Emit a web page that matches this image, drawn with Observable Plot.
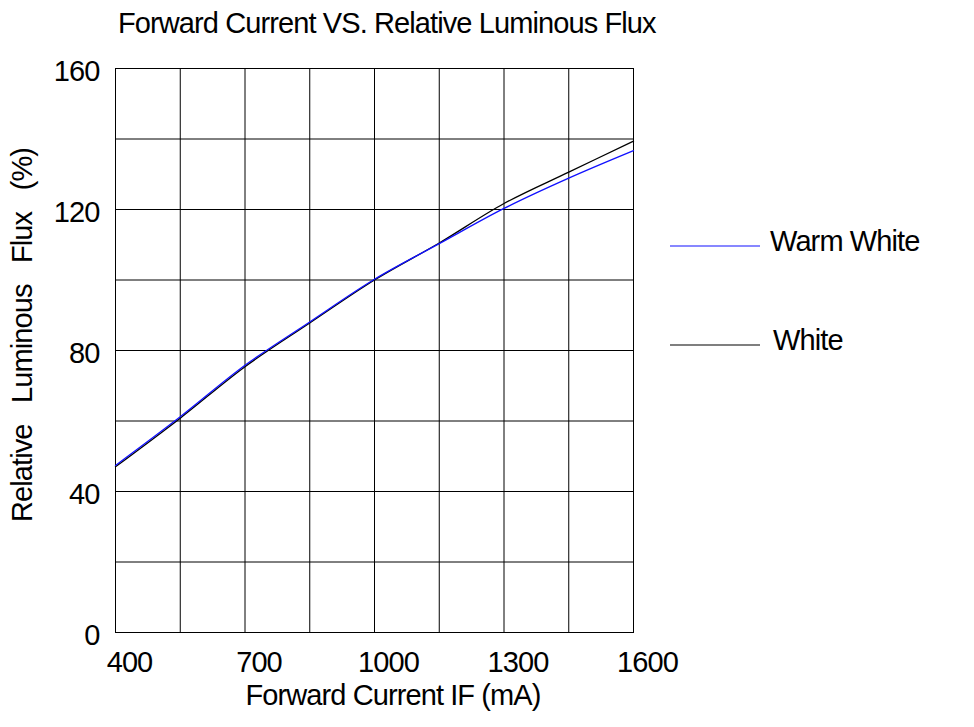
<!DOCTYPE html>
<html>
<head>
<meta charset="utf-8">
<script src="https://cdn.jsdelivr.net/npm/d3@7"></script>
<script src="https://cdn.jsdelivr.net/npm/@observablehq/plot@0.6"></script>
<style>
  html, body { margin: 0; padding: 0; background: #fff; }
  #chart svg { display: block; }
  #chart svg text { letter-spacing: -0.9px; }
</style>
</head>
<body>
<div id="chart"></div>
<script>
// Forward current (mA)
const currents = [400, 550, 700, 850, 1000, 1150, 1300, 1450, 1600];
// Relative luminous flux (%)
const whiteFlux = [47.0, 60.8, 75.4, 87.8, 100.0, 110.5, 121.7, 130.6, 139.4];
const warmWhiteFlux = [47.4, 61.2, 75.8, 88.1, 100.2, 110.3, 120.3, 128.9, 136.7];

const seriesNames = ["Warm White", "White"];
const seriesColors = ["#1010ff", "#000000"];

const xGridTicks = [400, 550, 700, 850, 1000, 1150, 1300, 1450, 1600];
const xLabelTicks = [400, 700, 1000, 1300, 1600];
const yGridTicks = [0, 20, 40, 60, 80, 100, 120, 140, 160];
const yLabelTicks = [0, 40, 80, 120, 160];

const titleText = "Forward Current VS. Relative Luminous Flux";
const xLabelText = "Forward Current IF (mA)";
const yLabelText = "Relative   Luminous   Flux   (%)";

const white = currents.map((c, i) => ({current: c, flux: whiteFlux[i]}));
const warm = currents.map((c, i) => ({current: c, flux: warmWhiteFlux[i]}));

const font = "'Liberation Sans', Arial, sans-serif";
const fs = 29;

const plot = Plot.plot({
  width: 974,
  height: 727,
  marginTop: 68,
  marginBottom: 95,
  marginLeft: 115,
  marginRight: 341,
  style: {fontFamily: font, background: "#fff", color: "#000"},
  x: {domain: [400, 1600]},
  y: {domain: [0, 160]},
  marks: [
    Plot.gridX(xGridTicks, {stroke: "#000", strokeOpacity: 1, strokeWidth: 1}),
    Plot.gridY(yGridTicks, {stroke: "#000", strokeOpacity: 1, strokeWidth: 1}),
    Plot.frame({stroke: "#000", strokeWidth: 1}),
    Plot.axisX(xLabelTicks, {tickSize: 0, tickPadding: 19, dx: 14, fontSize: fs, label: null, tickFormat: d => String(d)}),
    Plot.axisY(yLabelTicks, {tickSize: 0, tickPadding: 16, dy: 3, fontSize: fs, label: null, tickFormat: d => String(d)}),
    Plot.line(white, {x: "current", y: "flux", stroke: seriesColors[1], strokeWidth: 1.3, curve: "catmull-rom"}),
    Plot.line(warm, {x: "current", y: "flux", stroke: seriesColors[0], strokeWidth: 1.3, curve: "catmull-rom"})
  ]
});

document.getElementById("chart").appendChild(plot);

const svg = d3.select(plot);
function addText(x, y, txt, size, anchor, rotate) {
  const t = svg.append("text")
    .attr("x", x).attr("y", y)
    .attr("font-family", font)
    .attr("font-size", size)
    .attr("fill", "#000")
    .attr("text-anchor", anchor || "start")
    .style("white-space", "pre")
    .text(txt);
  if (rotate) t.attr("transform", `rotate(${rotate},${x},${y})`);
  return t;
}
addText(118, 33, titleText, fs);
addText(393, 705, xLabelText, fs, "middle");
addText(32, 335, yLabelText, fs, "middle", -90);

// Legend
const legendY = [246, 345];
const legendTextX = [770, 773];
seriesNames.forEach((name, i) => {
  svg.append("line")
    .attr("x1", 670).attr("x2", 760)
    .attr("y1", legendY[i]).attr("y2", legendY[i])
    .attr("stroke", seriesColors[i]).attr("stroke-width", 1.2);
  addText(legendTextX[i], legendY[i] + 5, name, fs);
});
</script>
</body>
</html>
